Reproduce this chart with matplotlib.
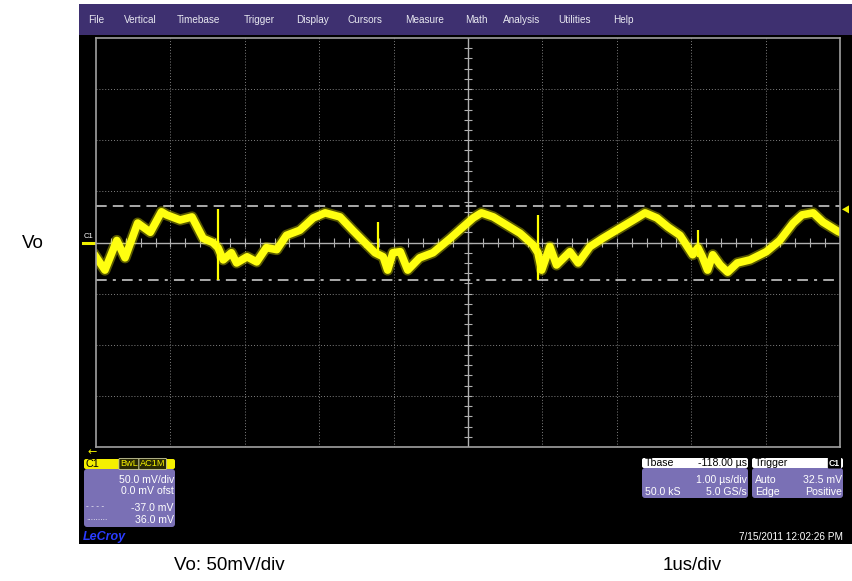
import numpy as np
import matplotlib
matplotlib.use('Agg')
import matplotlib.pyplot as plt
from matplotlib.patches import Rectangle, FancyBboxPatch, Polygon

plt.rcParams['font.family'] = ['Liberation Sans', 'DejaVu Sans']

# Vo trace: time in us, level in mV (50 mV/div, 1 us/div)
t_us = [0.00, 0.12, 0.28, 0.39, 0.56, 0.73, 0.88, 0.95, 1.13, 1.29,
        1.44, 1.57, 1.64, 1.71, 1.82, 1.89, 2.03, 2.16, 2.29, 2.43,
        2.56, 2.74, 2.92, 3.08, 3.28, 3.45, 3.64, 3.75, 3.86, 3.92,
        3.99, 4.09, 4.19, 4.35, 4.53, 4.76, 4.93, 5.07, 5.18, 5.34,
        5.52, 5.70, 5.87, 5.94, 5.99, 6.10, 6.19, 6.37, 6.48, 6.64,
        6.81, 7.04, 7.27, 7.38, 7.54, 7.69, 7.85, 8.02, 8.09, 8.15,
        8.22, 8.29, 8.39, 8.49, 8.62, 8.79, 9.01, 9.19, 9.37, 9.49,
        9.64, 9.77, 9.97, 10.0]
v_mv = [-14, -27, 2, -15, 19, 10, 30, 27, 22, 25,
        4, 0, -5, -17, -10, -20, -14, -19, -5, -7,
        7, 12, 24, 29, 25, 12, -2, -10, -14, -27,
        -10, -9, -27, -15, -10, 4, 15, 24, 29, 25,
        17, 9, -2, -10, -27, -4, -22, -9, -20, -4,
        4, 14, 24, 29, 24, 15, 7, -12, -5, -14,
        -27, -12, -22, -29, -20, -17, -9, 2, 19, 27,
        29, 20, 11, 10]

# switching spikes
spike_t = [1.64, 3.79, 5.94, 8.09]
spike_hi = [33, 20, 27, 12]
spike_lo = [-37, -14, -37, -14]

# cursors and trigger level (mV)
cursor_a = 36.0
cursor_b = -37.0
trig_level = 32.5

menu_items = ['File', 'Vertical', 'Timebase', 'Trigger', 'Display', 'Cursors',
              'Measure', 'Math', 'Analysis', 'Utilities', 'Help']
menu_x = [88, 124, 177, 244, 296, 348, 405, 465, 503, 558, 613]

W, H = 853, 581
fig = plt.figure(figsize=(W / 100, H / 100), dpi=100)
fig.patch.set_facecolor('white')

# pixel-space axes for the scope chrome
bg = fig.add_axes([0, 0, 1, 1])
bg.set_xlim(0, W)
bg.set_ylim(H, 0)
bg.axis('off')

bg.add_patch(Rectangle((79, 35), W - 79, 509, color='black', lw=0))
bg.add_patch(Rectangle((79, 4), W - 79, 31, color='#3e3070', lw=0))
for name, x in zip(menu_items, menu_x):
    bg.text(x, 20, name, color='#e8e8f0', fontsize=7.2, va='center', ha='left')

# C1 channel marker on the left
bg.plot([83, 95], [242.6, 242.6], color='#f0f000', lw=2.2)
bg.text(84, 236, 'C1', color='white', fontsize=5.5, va='center', ha='left')
# trigger level marker on the right
ty = 242.6 - trig_level * 409 / 400
bg.add_patch(Polygon([[842, ty], [849, ty - 4], [849, ty + 4]], closed=True,
                     color='#f0f000', lw=0))
bg.text(92, 452, '\u2190', color='#f0f000', fontsize=8, va='center', ha='center',
        family='DejaVu Sans')

# C1 info box
bg.add_patch(FancyBboxPatch((84, 469), 91, 58, boxstyle='round,pad=0,rounding_size=3',
                            fc='#7a70b5', ec='none'))
bg.add_patch(FancyBboxPatch((84, 459), 91, 10, boxstyle='round,pad=0,rounding_size=2',
                            fc='#f5f000', ec='none'))
bg.text(86, 464, 'C1', color='black', fontsize=7.8, va='center')
bg.text(120, 464, 'BwL', color='#f5f000', fontsize=6.6, va='center',
        bbox=dict(boxstyle='round,pad=0.12', fc='#2a2a05', ec='#d0d0a0', lw=0.6))
bg.text(140, 464, 'AC1M', color='#f5f000', fontsize=6.6, va='center',
        bbox=dict(boxstyle='round,pad=0.12', fc='#2a2a05', ec='#d0d0a0', lw=0.6))
for txt, y in [('50.0 mV/div', 480), ('0.0 mV ofst', 491.5), ('-37.0 mV', 508), ('36.0 mV', 520)]:
    bg.text(174, y, txt, color='white', fontsize=7.6, va='center', ha='right')
bg.text(86, 507, '- - - -', color='white', fontsize=6, va='center')
bg.text(86, 519, '.........', color='white', fontsize=6, va='center')
bg.text(83, 537, 'LeCroy', color='#2a3cff', fontsize=9, fontweight='bold',
        style='italic', va='center')

# Tbase box
bg.add_patch(FancyBboxPatch((642, 468), 106, 30, boxstyle='round,pad=0,rounding_size=3',
                            fc='#7a70b5', ec='none'))
bg.add_patch(FancyBboxPatch((642, 458), 106, 10, boxstyle='round,pad=0,rounding_size=2',
                            fc='white', ec='none'))
bg.text(645, 463, 'Tbase', color='black', fontsize=7.6, va='center')
bg.text(747, 463, '-118.00 \u00b5s', color='black', fontsize=7.6, va='center', ha='right')
bg.text(747, 480, '1.00 \u00b5s/div', color='white', fontsize=7.6, va='center', ha='right')
bg.text(645, 492, '50.0 kS', color='white', fontsize=7.6, va='center')
bg.text(747, 492, '5.0 GS/s', color='white', fontsize=7.6, va='center', ha='right')

# Trigger box
bg.add_patch(FancyBboxPatch((752, 468), 91, 30, boxstyle='round,pad=0,rounding_size=3',
                            fc='#7a70b5', ec='none'))
bg.add_patch(FancyBboxPatch((752, 458), 91, 10, boxstyle='round,pad=0,rounding_size=2',
                            fc='white', ec='none'))
bg.text(755, 463, 'Trigger', color='black', fontsize=7.6, va='center')
bg.text(840, 463, 'C1', color='white', fontsize=6.2, va='center', ha='right',
        fontweight='bold', bbox=dict(boxstyle='round,pad=0.12', fc='black', ec='none'))
bg.text(755, 480, 'Auto', color='white', fontsize=7.6, va='center')
bg.text(842, 480, '32.5 mV', color='white', fontsize=7.6, va='center', ha='right')
bg.text(755, 492, 'Edge', color='white', fontsize=7.6, va='center')
bg.text(842, 492, 'Positive', color='white', fontsize=7.6, va='center', ha='right')

bg.text(843, 537, '7/15/2011 12:02:26 PM', color='white', fontsize=7.2, va='center', ha='right')

# labels outside the screen
bg.text(33, 243, 'Vo', color='black', fontsize=13.5, va='center', ha='center')
bg.text(229, 565, 'Vo: 50mV/div', color='black', fontsize=13.5, va='center', ha='center')
bg.text(692, 565, '1us/div', color='black', fontsize=13.5, va='center', ha='center')

# graticule + trace
ax = fig.add_axes([96 / W, 1 - 447 / H, 744 / W, 409 / H])
ax.set_facecolor('black')
ax.set_xlim(0, 10)
ax.set_ylim(-200, 200)
ax.set_xticks([])
ax.set_yticks([])
for s in ax.spines.values():
    s.set_color('#a0a0a0')
    s.set_linewidth(1.2)

grid_c = '#808080'
for x in range(1, 10):
    if x != 5:
        ax.axvline(x, color=grid_c, lw=0.7, ls=(0, (1, 2)))
for y in [-150, -100, -50, 50, 100, 150]:
    ax.axhline(y, color=grid_c, lw=0.7, ls=(0, (1, 2)))
ax.axhline(0, color='#b0b0b0', lw=1.0)
ax.axvline(5, color='#b0b0b0', lw=1.0)
minor_x = np.arange(0.2, 10, 0.2)
ax.vlines(minor_x, -4, 4, color='#b0b0b0', lw=0.8)
minor_y = np.arange(-190, 200, 10)
ax.hlines(minor_y, 4.95, 5.05, color='#b0b0b0', lw=0.8)

ax.axhline(cursor_a, color='#d8d8d8', lw=1.1, dashes=(7, 4))
ax.axhline(cursor_b, color='#d8d8d8', lw=1.1, dashes=(7, 4, 2, 4))

ax.plot(t_us, v_mv, color='#ffff00', lw=8, alpha=0.35, solid_joinstyle='round')
ax.plot(t_us, v_mv, color='#ffff10', lw=5.5, solid_joinstyle='round')
ax.vlines(spike_t, spike_lo, spike_hi, color='#ffff00', lw=1.6)

fig.savefig('out.png', dpi=100, facecolor=fig.get_facecolor())
